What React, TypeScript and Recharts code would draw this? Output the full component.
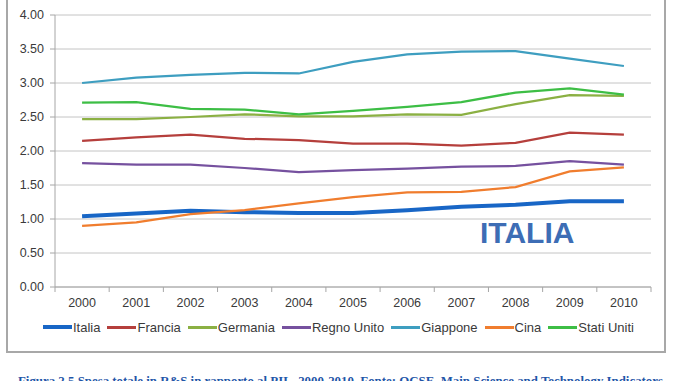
import React from "react";
import { LineChart, Line, XAxis, YAxis, CartesianGrid } from "recharts";

const years = ["2000", "2001", "2002", "2003", "2004", "2005", "2006", "2007", "2008", "2009", "2010"];
const italia = [1.04, 1.08, 1.12, 1.1, 1.09, 1.09, 1.13, 1.18, 1.21, 1.26, 1.26];
const francia = [2.15, 2.2, 2.24, 2.18, 2.16, 2.11, 2.11, 2.08, 2.12, 2.27, 2.24];
const germania = [2.47, 2.47, 2.5, 2.54, 2.51, 2.51, 2.54, 2.53, 2.69, 2.82, 2.81];
const regnoUnito = [1.82, 1.8, 1.8, 1.75, 1.69, 1.72, 1.74, 1.77, 1.78, 1.85, 1.8];
const giappone = [3.0, 3.08, 3.12, 3.15, 3.14, 3.31, 3.42, 3.46, 3.47, 3.36, 3.25];
const cina = [0.9, 0.95, 1.07, 1.13, 1.23, 1.32, 1.39, 1.4, 1.47, 1.7, 1.76];
const statiUniti = [2.71, 2.72, 2.62, 2.61, 2.54, 2.59, 2.65, 2.72, 2.86, 2.92, 2.83];
const yTicks = [0, 0.5, 1, 1.5, 2, 2.5, 3, 3.5, 4];

const seriesDefs = [
  { key: "italia", name: "Italia", values: italia, color: "#1866C6", width: 4 },
  { key: "francia", name: "Francia", values: francia, color: "#B53F3C", width: 2.25 },
  { key: "germania", name: "Germania", values: germania, color: "#8BB043", width: 2.25 },
  { key: "regnoUnito", name: "Regno Unito", values: regnoUnito, color: "#76519F", width: 2.25 },
  { key: "giappone", name: "Giappone", values: giappone, color: "#3E9EC0", width: 2.25 },
  { key: "cina", name: "Cina", values: cina, color: "#F07D2E", width: 2.25 },
  { key: "statiUniti", name: "Stati Uniti", values: statiUniti, color: "#3DBE45", width: 2.25 },
];

const data = years.map((y, i) => {
  const row: any = { year: y };
  seriesDefs.forEach((s) => (row[s.key] = s.values[i]));
  return row;
});

const FONT = "'Liberation Sans', Arial, sans-serif";
const AXIS = "#A6A6A6";
const TEXT = "#3A3A3A";

const XTick = (props: any) => {
  const { x, y, payload, index, visibleTicksCount, width } = props;
  const off =
    payload && typeof payload.offset === "number" && payload.offset > 0
      ? payload.offset
      : width / (visibleTicksCount || years.length) / 2;
  const last = index === years.length - 1;
  return (
    <g>
      <line x1={x - off} x2={x - off} y1={y} y2={y + 5} stroke={AXIS} strokeWidth={1} />
      {last && <line x1={x + off} x2={x + off} y1={y} y2={y + 5} stroke={AXIS} strokeWidth={1} />}
      <text x={x} y={y + 20} textAnchor="middle" fontFamily={FONT} fontSize={12.5} fill={TEXT}>
        {payload.value}
      </text>
    </g>
  );
};

export default function App() {
  return (
    <div style={{ position: "absolute", left: 0, top: 0, width: 678, height: 381, background: "#fff", overflow: "hidden" }}>
      <div
        style={{
          position: "absolute",
          left: 6,
          top: -3,
          width: 660,
          height: 356,
          border: "2px solid #A8A8A8",
          boxSizing: "border-box",
        }}
      />
      <div style={{ position: "absolute", left: 0, top: 0 }}>
        <LineChart width={678} height={381} data={data} margin={{ top: 15, right: 27, left: 0, bottom: 64 }}>
          <CartesianGrid vertical={false} stroke="#C4C4C4" strokeWidth={1} />
          <XAxis
            dataKey="year"
            scale="band"
            height={30}
            tickSize={0}
            tickMargin={0}
            tickLine={false}
            axisLine={{ stroke: AXIS, strokeWidth: 1 }}
            tick={<XTick />}
            interval={0}
          />
          <YAxis
            width={55}
            domain={[0, 4]}
            ticks={yTicks}
            tickFormatter={(v: number) => v.toFixed(2)}
            tickSize={5}
            tickMargin={6}
            tickLine={{ stroke: AXIS }}
            axisLine={{ stroke: AXIS, strokeWidth: 1 }}
            tick={{ fontFamily: FONT, fontSize: 12.5, fill: TEXT }}
            interval={0}
          />
          {seriesDefs.map((s) => (
            <Line
              key={s.key}
              type="linear"
              dataKey={s.key}
              name={s.name}
              stroke={s.color}
              strokeWidth={s.width}
              dot={false}
              activeDot={false}
              isAnimationActive={false}
            />
          ))}
        </LineChart>
      </div>
      <div
        style={{
          position: "absolute",
          left: 43,
          top: 318,
          height: 18,
          display: "flex",
          alignItems: "center",
          fontFamily: FONT,
          fontSize: 13,
          color: TEXT,
          whiteSpace: "nowrap",
        }}
      >
        {seriesDefs.map((s) => (
          <div key={s.key} style={{ display: "flex", alignItems: "center", marginRight: 7 }}>
            <div style={{ width: 29, height: s.key === "italia" ? 4 : 3, background: s.color, marginRight: 1 }} />
            <span>{s.name}</span>
          </div>
        ))}
      </div>
      <svg width={678} height={381} style={{ position: "absolute", left: 0, top: 0, pointerEvents: "none" }}>
        <text x={480} y={243} fontFamily={FONT} fontWeight="bold" fontSize={30} fill="#3D6DB5">
          ITALIA
        </text>
        <text
          x={18}
          y={385}
          fontFamily="'Liberation Serif', 'Times New Roman', serif"
          fontWeight="bold"
          fontSize={12}
          fill="#1F56A8"
          textLength={645}
          lengthAdjust="spacingAndGlyphs"
        >
          Figura 2.5 Spesa totale in R&amp;S in rapporto al PIL, 2000-2010. Fonte: OCSE, Main Science and Technology Indicators
        </text>
      </svg>
    </div>
  );
}
